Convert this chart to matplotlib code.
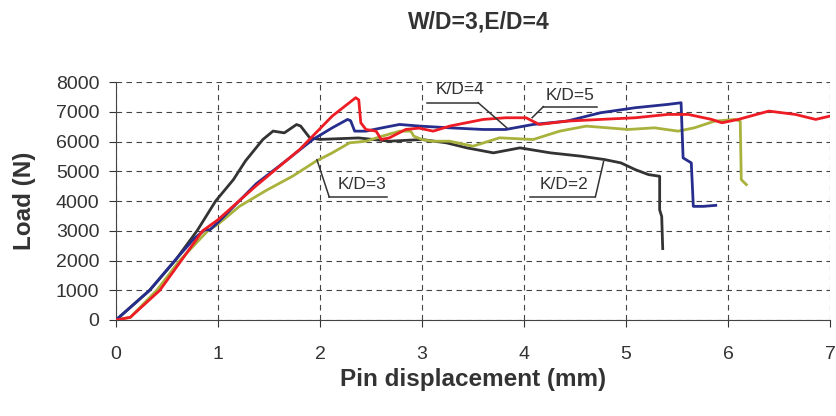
import matplotlib.pyplot as plt

# load-displacement curves
x_kd2 = [0, 0.33, 0.58, 0.795, 0.977, 1.15, 1.27, 1.44, 1.54, 1.65, 1.77, 1.81, 1.90, 2.0, 2.38, 2.68, 3.0,
         3.24, 3.44, 3.70, 3.96, 4.26, 4.56, 4.79, 4.95, 5.09, 5.22, 5.33, 5.33, 5.35, 5.36]
y_kd2 = [0, 1000, 2000, 3000, 4000, 4714, 5350, 6067, 6350, 6290, 6570, 6520, 6120, 6070, 6120, 6010, 6067,
         5955, 5786, 5618, 5786, 5618, 5506, 5393, 5281, 5056, 4888, 4831, 3700, 3480, 2400]

x_kd3 = [0, 0.14, 0.40, 0.625, 0.90, 1.0, 1.21, 1.47, 1.73, 1.96, 2.12, 2.29, 2.45, 2.61, 2.78, 2.89,
         2.92, 3.0, 3.1, 3.27, 3.5, 3.76, 4.09, 4.35, 4.61, 4.82, 5.02, 5.28, 5.51, 5.67, 5.87,
         6.07, 6.12, 6.13, 6.18]
y_kd3 = [0, 90, 1000, 2000, 3000, 3220, 3820, 4350, 4831, 5337, 5618, 5955, 6010, 6180, 6348, 6348,
         6180, 6067, 6010, 6010, 5843, 6123, 6067, 6348, 6517, 6460, 6404, 6460, 6348, 6460, 6685,
         6742, 6685, 4719, 4550]

x_kd4 = [0, 0.33, 0.577, 0.77, 0.87, 0.92, 1.0, 1.375, 1.64, 1.93, 2.12, 2.27, 2.30, 2.34, 2.45, 2.61, 2.78,
         2.98, 3.27, 3.60, 3.82, 4.09, 4.42, 4.75, 5.09, 5.41, 5.54, 5.55, 5.56, 5.64, 5.66, 5.76, 5.88]
y_kd4 = [0, 1000, 2000, 2750, 3030, 3030, 3280, 4580, 5281, 6067, 6460, 6742, 6700, 6348, 6348, 6460, 6573,
         6517, 6460, 6404, 6404, 6573, 6685, 6966, 7135, 7247, 7303, 6348, 5449, 5281, 3820, 3820, 3854]

x_kd5 = [0, 0.14, 0.43, 0.64, 0.85, 1.0, 1.37, 1.80, 2.12, 2.35, 2.38, 2.40, 2.45, 2.55, 2.60, 2.68, 2.84,
         2.97, 3.11, 3.27, 3.60, 3.82, 4.02, 4.15, 4.42, 4.75, 5.09, 5.41, 5.61, 5.84, 5.94, 6.10,
         6.40, 6.66, 6.86, 7.0]
y_kd5 = [0, 90, 1000, 2000, 3000, 3370, 4500, 5730, 6854, 7472, 7400, 6629, 6404, 6348, 6067, 6123, 6404,
         6450, 6348, 6517, 6742, 6798, 6798, 6573, 6685, 6742, 6798, 6910, 6910, 6742, 6629, 6742,
         7022, 6910, 6742, 6854]

labels = ['K/D=2', 'K/D=3', 'K/D=4', 'K/D=5']
colors = ['#333333', '#a9b23c', '#262d8c', '#ee1c24']

plt.rcParams['font.family'] = ['Liberation Sans', 'DejaVu Sans']

fig = plt.figure(figsize=(8.36, 4.16), dpi=100)
ax = fig.add_axes([116 / 836, 1 - 320 / 416, 714 / 836, 238 / 416])

for xs, ys, c in zip([x_kd2, x_kd3, x_kd4, x_kd5], [y_kd2, y_kd3, y_kd4, y_kd5], colors):
    ax.plot(xs, ys, color=c, lw=2, zorder=3)

# callout labels: text position, underline span, leader end
callouts = [
    ('K/D=2', (4.39, 4560), (4.06, 4.70, 4141), (4.70, 4.78, 5320)),
    ('K/D=3', (2.41, 4560), (2.09, 2.66, 4141), (2.09, 1.97, 5387)),
    ('K/D=4', (3.37, 7744), (3.05, 3.55, 7306), (3.55, 3.83, 6465)),
    ('K/D=5', (4.45, 7540), (4.19, 4.72, 7172), (4.19, 4.08, 6801)),
]
for txt, (tx, ty), (u0, u1, uy), (l0, l1, ly) in callouts:
    ax.text(tx, ty, txt, ha='center', va='center', fontsize=12.5, color='#333333', zorder=4)
    ax.plot([u0, u1], [uy, uy], color='#333333', lw=1.1, zorder=4)
    ax.plot([l0, l1], [uy, ly], color='#333333', lw=1.1, zorder=4)

ax.set_xlim(0, 7)
ax.set_ylim(0, 8000)
ax.set_xticks(range(0, 8))
ax.set_yticks(range(0, 8001, 1000))
ax.grid(True, linestyle=(0, (5, 4)), color='#444444', lw=0.8)
ax.set_axisbelow(True)
for s in ['top', 'right']:
    ax.spines[s].set_visible(False)
for s in ['left', 'bottom']:
    ax.spines[s].set_color('#444444')
ax.tick_params(labelsize=14, colors='#333333', length=5)
ax.tick_params(axis='x', pad=14)
ax.tick_params(axis='y', pad=7)

ax.set_xlabel('Pin displacement (mm)', fontsize=17.5, fontweight='bold', color='#333333', labelpad=3)
ax.set_ylabel('Load (N)', fontsize=17.5, fontweight='bold', color='#333333', labelpad=14)
fig.text(479 / 836, 1 - 22 / 416, 'W/D=3,E/D=4', ha='center', va='center',
         fontsize=16.5, fontweight='bold', color='#333333')

fig.savefig('out.png', dpi=100)
